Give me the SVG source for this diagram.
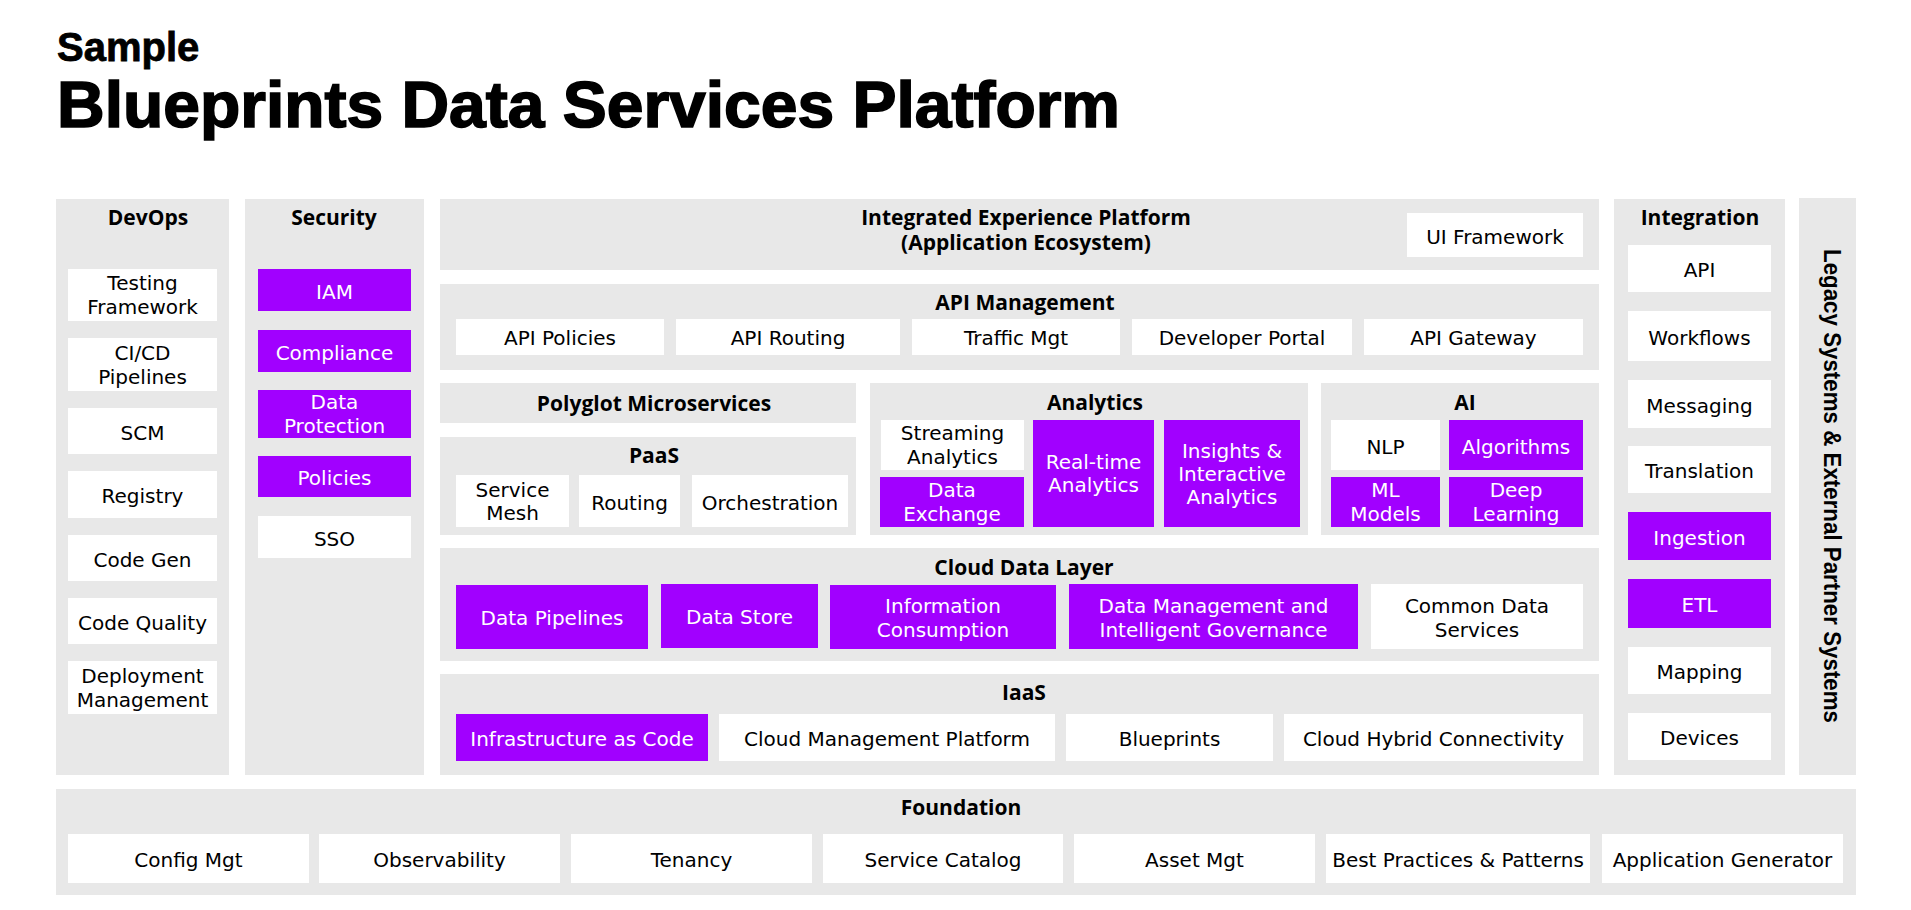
<svg xmlns="http://www.w3.org/2000/svg" width="1911" height="910" viewBox="0 0 1911 910">
<style>
.bg{fill:#ffffff}
.panel{fill:#e8e8e8}
.box{fill:#ffffff}
.pbox{fill:#a100ff}
.t{font-family:"DejaVu Sans","Liberation Sans",sans-serif;font-size:20px;fill:#000000;text-anchor:middle}
.tw{font-family:"DejaVu Sans","Liberation Sans",sans-serif;font-size:20px;fill:#ffffff;text-anchor:middle}
.h{font-family:"Open Sans","DejaVu Sans",sans-serif;font-weight:700;font-size:21px;fill:#000000;text-anchor:middle}
.title{font-family:"Liberation Sans",Arial,sans-serif;font-weight:700;fill:#000000;stroke:#000000}
.vt{font-family:"Liberation Sans",Arial,sans-serif;font-weight:700;font-size:24px;fill:#000000;text-anchor:middle}
</style>
<rect class="bg" x="0" y="0" width="1911" height="910"/>

<g id="title">
<text class="title" x="57" y="61" font-size="40" stroke-width="0.8">Sample</text>
<text class="title" x="57" y="127" font-size="64" stroke-width="1.6" textLength="1063" lengthAdjust="spacingAndGlyphs">Blueprints Data Services Platform</text>
</g>

<!-- DevOps -->
<g id="devops">
<rect class="panel" x="56" y="199" width="173" height="576"/>
<text class="h" x="148" y="225">DevOps</text>
<g id="devops-testing"><rect class="box" x="68" y="269" width="149" height="52"/><text class="t" x="142.5" y="290">Testing</text><text class="t" x="142.5" y="313.5">Framework</text></g>
<g id="devops-cicd"><rect class="box" x="68" y="338" width="149" height="53"/><text class="t" x="142.5" y="360">CI/CD</text><text class="t" x="142.5" y="383.5">Pipelines</text></g>
<g id="devops-scm"><rect class="box" x="68" y="408" width="149" height="46"/><text class="t" x="142.5" y="439.5">SCM</text></g>
<g id="devops-registry"><rect class="box" x="68" y="471" width="149" height="47"/><text class="t" x="142.5" y="503">Registry</text></g>
<g id="devops-codegen"><rect class="box" x="68" y="535" width="149" height="46"/><text class="t" x="142.5" y="566.5">Code Gen</text></g>
<g id="devops-codequality"><rect class="box" x="68" y="598" width="149" height="46"/><text class="t" x="142.5" y="629.5">Code Quality</text></g>
<g id="devops-deployment"><rect class="box" x="68" y="661" width="149" height="53"/><text class="t" x="142.5" y="683">Deployment</text><text class="t" x="142.5" y="706.5">Management</text></g>
</g>

<!-- Security -->
<g id="security">
<rect class="panel" x="245" y="199" width="179" height="576"/>
<text class="h" x="334" y="225">Security</text>
<g id="sec-iam"><rect class="pbox" x="258" y="269" width="153" height="42"/><text class="tw" x="334.5" y="298.5">IAM</text></g>
<g id="sec-compliance"><rect class="pbox" x="258" y="330" width="153" height="42"/><text class="tw" x="334.5" y="359.5">Compliance</text></g>
<g id="sec-dataprotection"><rect class="pbox" x="258" y="390" width="153" height="48"/><text class="tw" x="334.5" y="409">Data</text><text class="tw" x="334.5" y="432.5">Protection</text></g>
<g id="sec-policies"><rect class="pbox" x="258" y="456" width="153" height="41"/><text class="tw" x="334.5" y="485">Policies</text></g>
<g id="sec-sso"><rect class="box" x="258" y="516" width="153" height="42"/><text class="t" x="334.5" y="545.5">SSO</text></g>
</g>

<!-- Integrated Experience Platform -->
<g id="iep">
<rect class="panel" x="440" y="199" width="1159" height="71"/>
<text class="h" x="1026" y="225">Integrated Experience Platform</text>
<text class="h" x="1026" y="250">(Application Ecosystem)</text>
<g id="iep-ui"><rect class="box" x="1407" y="213" width="176" height="44"/><text class="t" x="1495" y="243.5">UI Framework</text></g>
</g>

<!-- API Management -->
<g id="apim">
<rect class="panel" x="440" y="284" width="1159" height="86"/>
<text class="h" x="1025" y="310">API Management</text>
<g id="apim-policies"><rect class="box" x="456" y="319" width="208" height="36"/><text class="t" x="560" y="345">API Policies</text></g>
<g id="apim-routing"><rect class="box" x="676" y="319" width="224" height="36"/><text class="t" x="788" y="345">API Routing</text></g>
<g id="apim-traffic"><rect class="box" x="912" y="319" width="208" height="36"/><text class="t" x="1016" y="345">Traffic Mgt</text></g>
<g id="apim-devportal"><rect class="box" x="1132" y="319" width="220" height="36"/><text class="t" x="1242" y="345">Developer Portal</text></g>
<g id="apim-gateway"><rect class="box" x="1364" y="319" width="219" height="36"/><text class="t" x="1473.5" y="345">API Gateway</text></g>
</g>

<!-- Polyglot -->
<g id="polyglot">
<rect class="panel" x="440" y="383" width="416" height="40"/>
<text class="h" x="654" y="411">Polyglot Microservices</text>
</g>

<!-- PaaS -->
<g id="paas">
<rect class="panel" x="440" y="437" width="416" height="98"/>
<text class="h" x="654" y="463">PaaS</text>
<g id="paas-mesh"><rect class="box" x="456" y="475" width="113" height="52"/><text class="t" x="512.5" y="496.5">Service</text><text class="t" x="512.5" y="520">Mesh</text></g>
<g id="paas-routing"><rect class="box" x="579" y="475" width="101" height="52"/><text class="t" x="629.5" y="509.5">Routing</text></g>
<g id="paas-orch"><rect class="box" x="692" y="475" width="156" height="52"/><text class="t" x="770" y="509.5">Orchestration</text></g>
</g>

<!-- Analytics -->
<g id="analytics">
<rect class="panel" x="870" y="383" width="438" height="152"/>
<text class="h" x="1095" y="410">Analytics</text>
<g id="an-streaming"><rect class="box" x="881" y="420" width="143" height="50"/><text class="t" x="952.5" y="440">Streaming</text><text class="t" x="952.5" y="463.5">Analytics</text></g>
<g id="an-exchange"><rect class="pbox" x="880" y="477" width="144" height="50"/><text class="tw" x="952" y="497">Data</text><text class="tw" x="952" y="520.5">Exchange</text></g>
<g id="an-realtime"><rect class="pbox" x="1033" y="420" width="121" height="107"/><text class="tw" x="1093.5" y="468.5">Real-time</text><text class="tw" x="1093.5" y="492">Analytics</text></g>
<g id="an-insights"><rect class="pbox" x="1164" y="420" width="136" height="107"/><text class="tw" x="1232" y="458">Insights &amp;</text><text class="tw" x="1232" y="481">Interactive</text><text class="tw" x="1232" y="503.5">Analytics</text></g>
</g>

<!-- AI -->
<g id="ai">
<rect class="panel" x="1321" y="383" width="278" height="152"/>
<text class="h" x="1465" y="410">AI</text>
<g id="ai-nlp"><rect class="box" x="1331" y="420" width="109" height="50"/><text class="t" x="1385.5" y="453.5">NLP</text></g>
<g id="ai-algorithms"><rect class="pbox" x="1449" y="420" width="134" height="50"/><text class="tw" x="1516" y="453.5">Algorithms</text></g>
<g id="ai-ml"><rect class="pbox" x="1331" y="477" width="109" height="50"/><text class="tw" x="1385.5" y="497">ML</text><text class="tw" x="1385.5" y="520.5">Models</text></g>
<g id="ai-deep"><rect class="pbox" x="1449" y="477" width="134" height="50"/><text class="tw" x="1516" y="497">Deep</text><text class="tw" x="1516" y="520.5">Learning</text></g>
</g>

<!-- Cloud Data Layer -->
<g id="cdl">
<rect class="panel" x="440" y="548" width="1159" height="113"/>
<text class="h" x="1024" y="575">Cloud Data Layer</text>
<g id="cdl-pipelines"><rect class="pbox" x="456" y="585" width="192" height="64"/><text class="tw" x="552" y="625">Data Pipelines</text></g>
<g id="cdl-store"><rect class="pbox" x="661" y="584" width="157" height="64"/><text class="tw" x="739.5" y="624">Data Store</text></g>
<g id="cdl-info"><rect class="pbox" x="830" y="585" width="226" height="64"/><text class="tw" x="943" y="613">Information</text><text class="tw" x="943" y="637">Consumption</text></g>
<g id="cdl-dm"><rect class="pbox" x="1069" y="584" width="289" height="65"/><text class="tw" x="1213.5" y="612.5">Data Management and</text><text class="tw" x="1213.5" y="636.5">Intelligent Governance</text></g>
<g id="cdl-common"><rect class="box" x="1371" y="584" width="212" height="65"/><text class="t" x="1477" y="612.5">Common Data</text><text class="t" x="1477" y="636.5">Services</text></g>
</g>

<!-- IaaS -->
<g id="iaas">
<rect class="panel" x="440" y="674" width="1159" height="101"/>
<text class="h" x="1024" y="700">IaaS</text>
<g id="iaas-iac"><rect class="pbox" x="456" y="714" width="252" height="47"/><text class="tw" x="582" y="746">Infrastructure as Code</text></g>
<g id="iaas-cmp"><rect class="box" x="719" y="714" width="336" height="47"/><text class="t" x="887" y="746">Cloud Management Platform</text></g>
<g id="iaas-blueprints"><rect class="box" x="1066" y="714" width="207" height="47"/><text class="t" x="1169.5" y="746">Blueprints</text></g>
<g id="iaas-hybrid"><rect class="box" x="1284" y="714" width="299" height="47"/><text class="t" x="1433.5" y="746">Cloud Hybrid Connectivity</text></g>
</g>

<!-- Integration -->
<g id="integration">
<rect class="panel" x="1614" y="199" width="171" height="576"/>
<text class="h" x="1700" y="225">Integration</text>
<g id="int-api"><rect class="box" x="1628" y="245" width="143" height="47"/><text class="t" x="1699.5" y="277">API</text></g>
<g id="int-workflows"><rect class="box" x="1628" y="311" width="143" height="50"/><text class="t" x="1699.5" y="344.5">Workflows</text></g>
<g id="int-messaging"><rect class="box" x="1628" y="380" width="143" height="48"/><text class="t" x="1699.5" y="412.5">Messaging</text></g>
<g id="int-translation"><rect class="box" x="1628" y="446" width="143" height="47"/><text class="t" x="1699.5" y="478">Translation</text></g>
<g id="int-ingestion"><rect class="pbox" x="1628" y="512" width="143" height="48"/><text class="tw" x="1699.5" y="544.5">Ingestion</text></g>
<g id="int-etl"><rect class="pbox" x="1628" y="579" width="143" height="49"/><text class="tw" x="1699.5" y="612">ETL</text></g>
<g id="int-mapping"><rect class="box" x="1628" y="647" width="143" height="47"/><text class="t" x="1699.5" y="679">Mapping</text></g>
<g id="int-devices"><rect class="box" x="1628" y="713" width="143" height="47"/><text class="t" x="1699.5" y="745">Devices</text></g>
</g>

<!-- Legacy -->
<g id="legacy">
<rect class="panel" x="1799" y="198" width="57" height="577"/>
<text class="vt" transform="translate(1824,486) rotate(90)" textLength="474" lengthAdjust="spacingAndGlyphs">Legacy Systems &amp; External Partner Systems</text>
</g>

<!-- Foundation -->
<g id="foundation">
<rect class="panel" x="56" y="789" width="1800" height="106"/>
<text class="h" x="961" y="815">Foundation</text>
<g id="f-config"><rect class="box" x="68" y="834" width="241" height="49"/><text class="t" x="188.5" y="867">Config Mgt</text></g>
<g id="f-observability"><rect class="box" x="319" y="834" width="241" height="49"/><text class="t" x="439.5" y="867">Observability</text></g>
<g id="f-tenancy"><rect class="box" x="571" y="834" width="241" height="49"/><text class="t" x="691.5" y="867">Tenancy</text></g>
<g id="f-catalog"><rect class="box" x="823" y="834" width="240" height="49"/><text class="t" x="943" y="867">Service Catalog</text></g>
<g id="f-asset"><rect class="box" x="1074" y="834" width="241" height="49"/><text class="t" x="1194.5" y="867">Asset Mgt</text></g>
<g id="f-best"><rect class="box" x="1326" y="834" width="264" height="49"/><text class="t" x="1458" y="867">Best Practices &amp; Patterns</text></g>
<g id="f-appgen"><rect class="box" x="1602" y="834" width="241" height="49"/><text class="t" x="1722.5" y="867">Application Generator</text></g>
</g>

<g id="connectors"></g>
</svg>
